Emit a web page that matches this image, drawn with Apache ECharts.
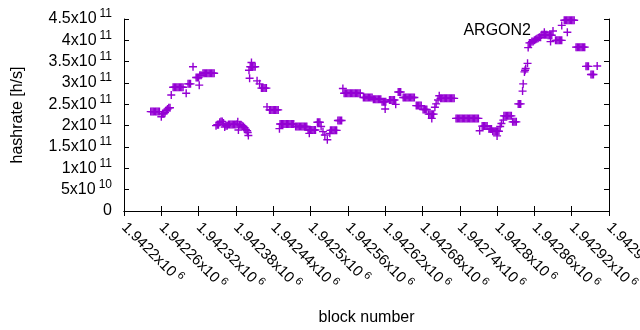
<!DOCTYPE html>
<html>
<head>
<meta charset="utf-8">
<script src="https://cdn.jsdelivr.net/npm/echarts@6/dist/echarts.min.js"></script>
<style>
  html, body { margin: 0; padding: 0; background: #fff; }
  #chart { width: 640px; height: 330px; }
</style>
</head>
<body>
<div id="chart"></div>
<script>
// block number, hashrate in units of 1e11 h/s
const seriesName = 'ARGON2'
const points = [
  [1942243, 2.33], [1942245, 2.33], [1942247, 2.33], [1942249, 2.33], [1942251, 2.33], [1942253, 2.33], [1942255, 2.33], [1942257, 2.33],
  [1942260, 2.21], [1942262, 2.28], [1942264, 2.28], [1942266, 2.31], [1942268, 2.36], [1942270, 2.39], [1942272, 2.42], [1942274, 2.42],
  [1942276, 2.72],
  [1942279, 2.90], [1942281, 2.90], [1942283, 2.90], [1942285, 2.90], [1942287, 2.90], [1942289, 2.90], [1942291, 2.90], [1942293, 2.90], [1942295, 2.90],
  [1942300, 2.76], [1942303, 2.98], [1942305, 2.98], [1942307, 2.98], [1942311, 3.38],
  [1942316, 3.13], [1942318, 3.13], [1942320, 3.13], [1942321, 2.95], [1942322, 3.18], [1942324, 3.18],
  [1942327, 3.23], [1942329, 3.23], [1942331, 3.23], [1942333, 3.23], [1942335, 3.23], [1942337, 3.23], [1942339, 3.23], [1942341, 3.23], [1942343, 3.23], [1942345, 3.23],
  [1942348, 2.00], [1942350, 2.02], [1942352, 2.02], [1942354, 2.08], [1942356, 2.10], [1942358, 2.10], [1942360, 2.06], [1942362, 1.97],
  [1942364, 2.00], [1942366, 2.00], [1942368, 2.03], [1942370, 2.03], [1942372, 2.03], [1942374, 2.03], [1942376, 2.03], [1942378, 2.03],
  [1942380, 2.03], [1942382, 2.04], [1942383, 2.09], [1942384, 1.90], [1942386, 2.02], [1942388, 2.02], [1942390, 2.00], [1942392, 1.98],
  [1942394, 1.95], [1942396, 1.91], [1942398, 1.88], [1942399, 1.84], [1942400, 1.77],
  [1942401, 3.30], [1942402, 3.11], [1942403, 3.38], [1942405, 3.38], [1942405, 3.48], [1942407, 3.38], [1942409, 3.38], [1942411, 3.38],
  [1942414, 3.05], [1942418, 2.98], [1942421, 2.88], [1942423, 2.88], [1942425, 2.88], [1942427, 2.88], [1942429, 2.88],
  [1942430, 2.44], [1942434, 2.37], [1942436, 2.37], [1942438, 2.37], [1942440, 2.37], [1942442, 2.37], [1942444, 2.37], [1942446, 2.37], [1942448, 2.37],
  [1942450, 1.93],
  [1942451, 2.04], [1942453, 2.04], [1942455, 2.04], [1942457, 2.04], [1942459, 2.04], [1942461, 2.04], [1942463, 2.04], [1942465, 2.04],
  [1942467, 2.04], [1942469, 2.04], [1942471, 2.04], [1942473, 2.04],
  [1942476, 1.98], [1942478, 1.98], [1942480, 1.98], [1942482, 1.98], [1942484, 1.98], [1942486, 1.98], [1942488, 1.98], [1942490, 1.98], [1942492, 1.98], [1942494, 1.98],
  [1942496, 1.90], [1942498, 1.90], [1942500, 1.90], [1942502, 1.90], [1942504, 1.90], [1942506, 1.90], [1942508, 1.90], [1942498, 1.82],
  [1942511, 2.08], [1942513, 2.08], [1942515, 2.08],
  [1942517, 1.98], [1942520, 1.86], [1942523, 1.78], [1942527, 1.67], [1942531, 1.82],
  [1942532, 1.89], [1942534, 1.89], [1942536, 1.89], [1942538, 1.89], [1942540, 1.89], [1942542, 1.89],
  [1942544, 2.12], [1942546, 2.12], [1942548, 2.12], [1942550, 2.12],
  [1942552, 2.87],
  [1942554, 2.76], [1942556, 2.76], [1942558, 2.76], [1942560, 2.76], [1942562, 2.76], [1942564, 2.76], [1942566, 2.76],
  [1942568, 2.76], [1942570, 2.76], [1942572, 2.76], [1942574, 2.76], [1942576, 2.76], [1942578, 2.76], [1942580, 2.76],
  [1942585, 2.66], [1942587, 2.66], [1942589, 2.66], [1942591, 2.66], [1942593, 2.66], [1942595, 2.66], [1942597, 2.66], [1942599, 2.66],
  [1942601, 2.62], [1942603, 2.62], [1942605, 2.62], [1942607, 2.62], [1942609, 2.62], [1942611, 2.62], [1942613, 2.62],
  [1942615, 2.56], [1942617, 2.56], [1942619, 2.56], [1942621, 2.56], [1942620, 2.39],
  [1942627, 2.60], [1942629, 2.60], [1942631, 2.60], [1942633, 2.60], [1942635, 2.60], [1942637, 2.50],
  [1942641, 2.79], [1942643, 2.79], [1942645, 2.79],
  [1942649, 2.66], [1942651, 2.66], [1942653, 2.66], [1942655, 2.66], [1942657, 2.66], [1942659, 2.66], [1942661, 2.66], [1942663, 2.66], [1942665, 2.66], [1942667, 2.66],
  [1942670, 2.47], [1942672, 2.47], [1942674, 2.47], [1942676, 2.47], [1942678, 2.47],
  [1942681, 2.38], [1942683, 2.38], [1942685, 2.38], [1942687, 2.38],
  [1942690, 2.27], [1942692, 2.27], [1942694, 2.27], [1942696, 2.27], [1942698, 2.27], [1942695, 2.17],
  [1942700, 2.43], [1942702, 2.51], [1942705, 2.60], [1942707, 2.70],
  [1942709, 2.64], [1942711, 2.64], [1942713, 2.64], [1942715, 2.64], [1942717, 2.64], [1942719, 2.64],
  [1942721, 2.64], [1942723, 2.64], [1942725, 2.64], [1942727, 2.64], [1942729, 2.64], [1942731, 2.64],
  [1942734, 2.17], [1942736, 2.17], [1942738, 2.17], [1942740, 2.17], [1942742, 2.17], [1942744, 2.17], [1942746, 2.17],
  [1942748, 2.17], [1942750, 2.17], [1942752, 2.17], [1942754, 2.17], [1942756, 2.17], [1942758, 2.17], [1942760, 2.17],
  [1942762, 2.17], [1942764, 2.17], [1942766, 2.17], [1942768, 2.17], [1942770, 2.17],
  [1942772, 1.88],
  [1942776, 1.99], [1942778, 1.99], [1942780, 1.99], [1942782, 1.99], [1942784, 1.99],
  [1942787, 1.92], [1942789, 1.92], [1942791, 1.92],
  [1942793, 1.87], [1942795, 1.87], [1942797, 1.87], [1942799, 1.87], [1942801, 1.87], [1942803, 1.87], [1942800, 1.76],
  [1942805, 1.98], [1942807, 2.05], [1942810, 2.13],
  [1942811, 2.23], [1942813, 2.23], [1942815, 2.23], [1942817, 2.23], [1942819, 2.23], [1942821, 2.23], [1942823, 2.23],
  [1942825, 2.09], [1942827, 2.09], [1942829, 2.09], [1942831, 2.09],
  [1942834, 2.51], [1942836, 2.51], [1942838, 2.51],
  [1942841, 2.81], [1942842, 2.98], [1942844, 3.26], [1942845, 3.30], [1942846, 3.34], [1942849, 3.46], [1942850, 3.83],
  [1942852, 3.94], [1942854, 3.94], [1942856, 3.97], [1942858, 3.97], [1942860, 4.00], [1942862, 4.02], [1942864, 4.04], [1942866, 4.05],
  [1942868, 4.07], [1942870, 4.07],
  [1942872, 4.13], [1942874, 4.13], [1942876, 4.13], [1942878, 4.13], [1942880, 4.13], [1942876, 4.19],
  [1942882, 4.12], [1942884, 4.12], [1942886, 4.12], [1942888, 4.12], [1942886, 3.97],
  [1942894, 4.00], [1942896, 4.00], [1942898, 4.00], [1942900, 4.00], [1942902, 4.00], [1942904, 4.00], [1942904, 4.35],
  [1942908, 4.47], [1942910, 4.47], [1942912, 4.47], [1942914, 4.47], [1942916, 4.47], [1942918, 4.47], [1942920, 4.47], [1942922, 4.47], [1942924, 4.47],
  [1942913, 4.19],
  [1942927, 3.84], [1942929, 3.84], [1942931, 3.84], [1942933, 3.84], [1942935, 3.84], [1942937, 3.84], [1942939, 3.84], [1942941, 3.84],
  [1942943, 3.39], [1942945, 3.39], [1942947, 3.39],
  [1942951, 3.20], [1942953, 3.20], [1942955, 3.20],
  [1942961, 3.40]
]

const xMin = 1942200
const xMax = 1942980
const xStep = 60
const yMax = 4.5e11
const yStep = 0.5e11

const purple = '#9400d3'
const plusPath = 'path://M0,3.3H3.3V0H4.7V3.3H8V4.7H4.7V8H3.3V4.7H0Z'
const font = 'Liberation Sans, Arial, sans-serif'

function sciLabel(v, digits) {
  if (v === 0) return '0'
  const e = Math.floor(Math.log10(v) + 1e-9)
  const m = parseFloat((v / Math.pow(10, e)).toFixed(digits))
  return m + 'x10{sup|' + e + '}'
}

const richSup = {
  sup: { fontSize: 12, fontFamily: font, color: '#000', padding: [0, 0, 10, 3] }
}
const richSupX = {
  sup: { fontSize: 11, fontFamily: font, color: '#000', padding: [0, 0, 9, 3] }
}

const chart = echarts.init(document.getElementById('chart'))

chart.setOption({
  animation: false,
  backgroundColor: '#fff',
  textStyle: { fontFamily: font },
  grid: { left: 124, right: 31, top: 19, bottom: 119, outerBoundsMode: 'none', containLabel: false },
  legend: {
    data: [seriesName],
    right: 83,
    top: 23,
    padding: 0,
    align: 'right',
    icon: plusPath,
    itemWidth: 34,
    itemHeight: 8,
    textStyle: { fontSize: 16, color: '#000', fontFamily: font }
  },
  xAxis: [{
    type: 'value',
    min: xMin,
    max: xMax,
    interval: xStep,
    name: 'block number',
    nameLocation: 'middle',
    nameGap: 99,
    nameTextStyle: { fontSize: 16, color: '#000', fontFamily: font },
    axisLine: { lineStyle: { color: '#000', width: 1 } },
    axisTick: { inside: true, length: 5, lineStyle: { color: '#000' } },
    axisLabel: {
      rotate: -45,
      margin: 14,
      fontSize: 15,
      color: '#000',
      fontFamily: font,
      formatter: v => sciLabel(v, 5),
      rich: richSupX
    },
    splitLine: { show: false }
  }, {
    type: 'value',
    position: 'top',
    min: xMin,
    max: xMax,
    interval: xStep,
    axisLine: { lineStyle: { color: '#000', width: 1 } },
    axisTick: { inside: true, length: 5, lineStyle: { color: '#000' } },
    axisLabel: { show: false },
    splitLine: { show: false }
  }],
  yAxis: [{
    type: 'value',
    min: 0,
    max: yMax,
    interval: yStep,
    name: 'hashrate [h/s]',
    nameLocation: 'middle',
    nameRotate: 90,
    nameGap: 98,
    nameTextStyle: { fontSize: 16, color: '#000', fontFamily: font },
    axisLine: { show: true, lineStyle: { color: '#000', width: 1 } },
    axisTick: { show: true, inside: true, length: 5, lineStyle: { color: '#000' } },
    axisLabel: {
      margin: 12,
      fontSize: 16,
      color: '#000',
      fontFamily: font,
      formatter: v => sciLabel(v, 2),
      rich: richSup
    },
    splitLine: { show: false }
  }, {
    type: 'value',
    position: 'right',
    min: 0,
    max: yMax,
    interval: yStep,
    axisLine: { show: true, lineStyle: { color: '#000', width: 1 } },
    axisTick: { show: true, inside: true, length: 5, lineStyle: { color: '#000' } },
    axisLabel: { show: false },
    splitLine: { show: false }
  }],
  series: [{
    name: seriesName,
    type: 'scatter',
    symbol: plusPath,
    symbolSize: 8,
    itemStyle: { color: purple, opacity: 1 },
    data: points.map(p => [p[0], p[1] * 1e11])
  }]
})
</script>
</body>
</html>
